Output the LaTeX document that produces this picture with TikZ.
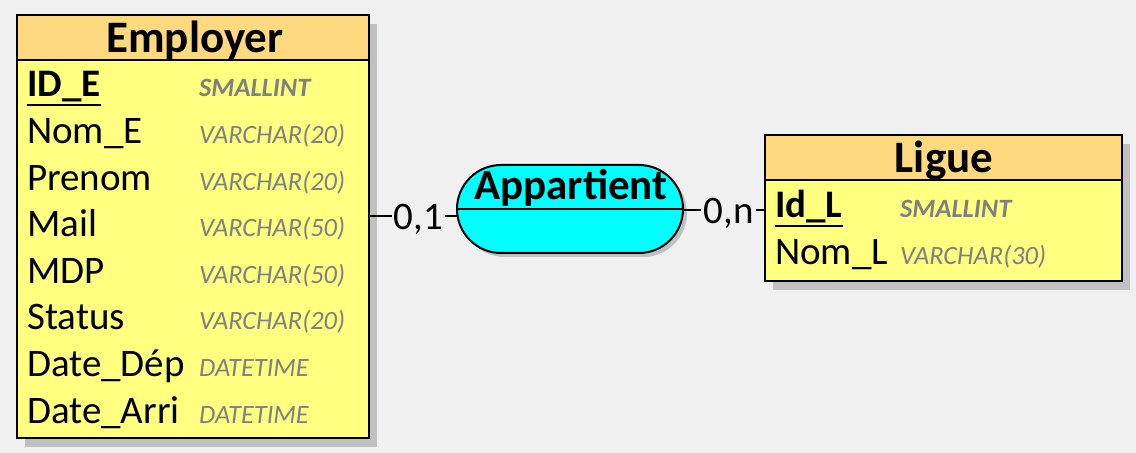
\documentclass[tikz,border=0pt]{standalone}
\usepackage{fontspec}
\setmainfont{Carlito}
\definecolor{bgc}{HTML}{F0F0F0}
\definecolor{hdrc}{HTML}{FFD97F}
\definecolor{bodyc}{HTML}{FFFF80}
\definecolor{shadowc}{HTML}{C0C0C0}
\definecolor{typec}{HTML}{808080}
\definecolor{relc}{HTML}{00FFFF}
\begin{document}
\begin{tikzpicture}[x=1bp,y=-1bp,
  attr/.style={anchor=base west, inner sep=0pt, font=\fontsize{39bp}{43bp}\selectfont},
  keyattr/.style={attr, font=\fontsize{39bp}{43bp}\selectfont\bfseries},
  typ/.style={anchor=base west, inner sep=0pt, text=typec, font=\fontsize{26.4bp}{30bp}\selectfont\itshape},
  keytyp/.style={typ, font=\fontsize{26.4bp}{30bp}\selectfont\bfseries\itshape},
  title/.style={anchor=base, inner sep=0pt, font=\fontsize{45bp}{50bp}\selectfont\bfseries},
  reltitle/.style={anchor=base, inner sep=0pt, font=\fontsize{43bp}{48bp}\selectfont\bfseries},
  card/.style={inner xsep=2bp, inner ysep=0pt, text height=28bp, text depth=0bp, font=\fontsize{39bp}{43bp}\selectfont},
  entity/.style={anchor=north west, inner sep=0pt, outer sep=0pt},
  frame/.style={draw=black, line width=2bp},
  conn/.style={draw=black, line width=1.2bp},
  uline/.style={draw=black, line width=2bp}]

\fill[bgc] (0,0) rectangle (1136,453);
\useasboundingbox (0,0) rectangle (1136,453);

% ---------- Employer ----------
\node[entity, minimum width=352bp, minimum height=423bp] (employer) at (17,15) {};
\fill[shadowc] ([shift={(8,9)}]employer.north west) rectangle ([shift={(8,9)}]employer.south east);
\fill[bodyc] (employer.north west) rectangle (employer.south east);
\fill[hdrc] (employer.north west) rectangle ([yshift=-45bp]employer.north east);
\draw[frame] (employer.north west) rectangle (employer.south east);
\draw[frame] ([yshift=-45bp]employer.north west) -- ([yshift=-45bp]employer.north east);
\node[title] (empt) at (195,53) {Employer};

\node[keyattr] (e1) at (27,97) {ID\_E};
\draw[uline] ([yshift=-8bp]e1.base west) -- ([yshift=-8bp]e1.base east);
\node[attr] (e2) at (27,144) {Nom\_E};
\node[attr] (e3) at (27,191) {Prenom};
\node[attr] (e4) at (27,237) {Mail};
\node[attr] (e5) at (27,284) {MDP};
\node[attr] (e6) at (27,330) {Status};
\node[attr] (e7) at (27,377) {Date\_Dép};
\node[attr] (e8) at (27,424) {Date\_Arri};

\node[keytyp] (t1) at (199,97) {SMALLINT};
\node[typ] (t2) at (199,144) {VARCHAR(20)};
\node[typ] (t3) at (199,191) {VARCHAR(20)};
\node[typ] (t4) at (199,237) {VARCHAR(50)};
\node[typ] (t5) at (199,284) {VARCHAR(50)};
\node[typ] (t6) at (199,330) {VARCHAR(20)};
\node[typ] (t7) at (199,377) {DATETIME};
\node[typ] (t8) at (199,424) {DATETIME};

% ---------- Ligue ----------
\node[entity, minimum width=357bp, minimum height=146bp] (ligue) at (765,135) {};
\fill[shadowc] ([shift={(8,9)}]ligue.north west) rectangle ([shift={(8,9)}]ligue.south east);
\fill[bodyc] (ligue.north west) rectangle (ligue.south east);
\fill[hdrc] (ligue.north west) rectangle ([yshift=-45bp]ligue.north east);
\draw[frame] (ligue.north west) rectangle (ligue.south east);
\draw[frame] ([yshift=-45bp]ligue.north west) -- ([yshift=-45bp]ligue.north east);
\node[title] (ligt) at (944,173) {Ligue};

\node[keyattr] (l1) at (775,218) {Id\_L};
\draw[uline] ([yshift=-8bp]l1.base west) -- ([yshift=-8bp]l1.base east);
\node[attr] (l2) at (775,265) {Nom\_L};
\node[keytyp] (lt1) at (900,218) {SMALLINT};
\node[typ] (lt2) at (900,265) {VARCHAR(30)};

% ---------- Appartient ----------
\fill[shadowc, rounded corners=44bp] (461,169) rectangle (687,257);
\node[draw=black, line width=2bp, fill=relc, rounded corners=44bp, minimum width=226bp, minimum height=88bp, inner sep=0pt, outer sep=0pt] (rel) at (570,209) {};
\draw[line width=1.5bp] (rel.west) -- (rel.east);
\node[reltitle] (relt) at (571,200) {Appartient};

% ---------- cardinalities and connectors ----------
\node[card] (c01) at (418.5,216) {0,1};
\node[card] (c0n) at (728.5,210) {0,n};
\draw[conn] (employer.east |- c01.west) -- (c01.west);
\draw[conn] (c01.east) -- (rel.west |- c01.east);
\draw[conn] (rel.east |- c0n.west) -- (c0n.west);
\draw[conn] (c0n.east) -- (ligue.west |- c0n.east);
\end{tikzpicture}
\end{document}
